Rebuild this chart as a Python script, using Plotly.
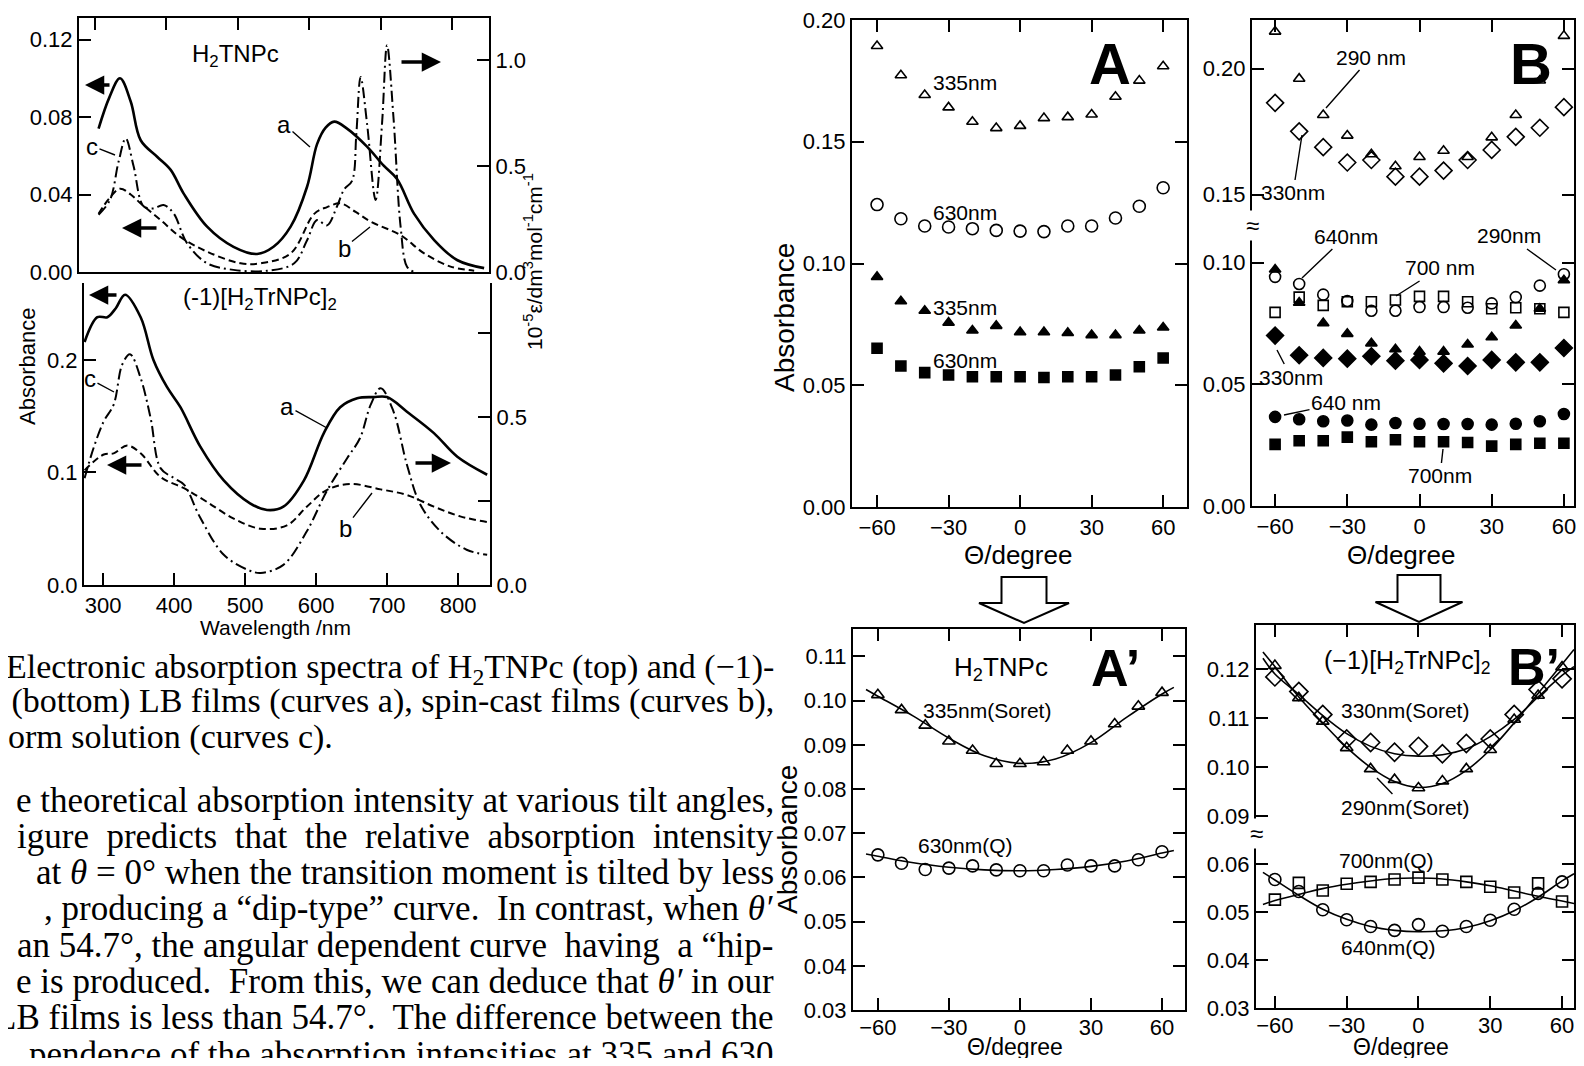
import plotly.graph_objects as go

# The page body keeps its default 8 px margin, so the figure is sized to fit
# the 1584x1066 window; chart positions are given in window pixels.
OFF = 8
XS = 7   # horizontal correction of chart positions
W, H = 1584 - 2 * OFF, 1066 - 2 * OFF
SANS = "Liberation Sans Narrow, Liberation Sans, Arial"
SANS2 = "Liberation Sans, Arial"
SERIF = "Liberation Serif, Times New Roman"
NB = "\u00a0"


def px(x):
    return (x - OFF + XS) / W


def py(y):
    return 1 - (y - OFF) / H


# ---------------- spectra (left) ----------------
# top panel: H2TNPc
top_a_wl = [305, 320, 335, 350, 364, 387, 406, 424, 457, 494, 527, 550, 574, 597, 611, 623, 635, 653, 681, 704, 723, 747, 775, 807, 845]
top_a_abs = [0.074, 0.090, 0.100, 0.088, 0.068, 0.0595, 0.0527, 0.0406, 0.0234, 0.013, 0.0093, 0.013, 0.0234, 0.044, 0.066, 0.0745, 0.0776, 0.074, 0.0647, 0.055, 0.048, 0.030, 0.0165, 0.0062, 0.002]
top_b_wl = [305, 320, 335, 350, 364, 392, 420, 457, 504, 532, 574, 607, 625, 644, 665, 686, 728, 761, 798, 831]
top_b_abs = [0.030, 0.038, 0.043, 0.040, 0.0354, 0.0268, 0.018, 0.0105, 0.0045, 0.0045, 0.0096, 0.030, 0.0335, 0.0354, 0.031, 0.026, 0.019, 0.0096, 0.0028, 0.0007]
top_c_wl = [305, 321, 333, 343, 354, 368, 382, 396, 410, 429, 457, 494, 541, 579, 597, 611, 625, 639, 649, 660, 666, 672, 681, 693, 702, 709, 718, 728, 737, 747]
top_c_eps = [0.27, 0.34, 0.52, 0.63, 0.50, 0.31, 0.30, 0.316, 0.277, 0.135, 0.041, 0.010, 0.006, 0.041, 0.15, 0.245, 0.22, 0.31, 0.39, 0.43, 0.65, 0.92, 0.70, 0.34, 0.70, 1.07, 0.73, 0.214, 0.025, 0.0]

# bottom panel: (-1)[H2TrNPc]2
bot_a_wl = [274, 292, 306, 318, 331, 353, 371, 390, 409, 437, 470, 507, 531, 554, 583, 611, 634, 658, 681, 700, 728, 766, 799, 841]
bot_a_abs = [0.216, 0.238, 0.238, 0.246, 0.258, 0.238, 0.200, 0.176, 0.158, 0.123, 0.093, 0.0726, 0.0667, 0.0696, 0.093, 0.135, 0.158, 0.166, 0.167, 0.167, 0.154, 0.135, 0.114, 0.098]
bot_b_wl = [274, 301, 315, 334, 353, 381, 414, 446, 484, 522, 559, 587, 615, 648, 691, 728, 766, 803, 841]
bot_b_abs = [0.102, 0.116, 0.117, 0.124, 0.117, 0.096, 0.086, 0.074, 0.059, 0.050, 0.053, 0.0696, 0.0844, 0.0898, 0.085, 0.080, 0.0696, 0.061, 0.056]
bot_c_wl = [274, 287, 301, 315, 327, 338, 353, 367, 381, 400, 414, 437, 470, 503, 522, 554, 587, 615, 644, 662, 677, 691, 709, 728, 747, 775, 812, 841]
bot_c_eps = [0.318, 0.41, 0.487, 0.537, 0.656, 0.687, 0.616, 0.497, 0.348, 0.318, 0.299, 0.20, 0.09, 0.046, 0.036, 0.06, 0.16, 0.279, 0.378, 0.4375, 0.537, 0.586, 0.517, 0.358, 0.239, 0.16, 0.105, 0.09]

# ---------------- angular dependence ----------------
theta = [-60, -50, -40, -30, -20, -10, 0, 10, 20, 30, 40, 50, 60]

# Panel A (H2TNPc)
A_335_open = [0.1893, 0.1773, 0.1692, 0.1641, 0.1582, 0.1556, 0.1565, 0.1597, 0.1601, 0.1612, 0.1685, 0.1751, 0.1810]
A_630_open = [0.1242, 0.1184, 0.1154, 0.1150, 0.1143, 0.1136, 0.1133, 0.1131, 0.1154, 0.1154, 0.1187, 0.1235, 0.1311]
A_335_fill = [0.0945, 0.0845, 0.0806, 0.0757, 0.0725, 0.0744, 0.0718, 0.0718, 0.0715, 0.0706, 0.0706, 0.0725, 0.0737]
A_630_fill = [0.0652, 0.0579, 0.0552, 0.0542, 0.0535, 0.0535, 0.0535, 0.0532, 0.0535, 0.0535, 0.0542, 0.0576, 0.0612]

# Panel B ((-1)[H2TrNPc]2)
B_290_open = [0.2147, 0.1960, 0.1816, 0.1734, 0.1660, 0.1612, 0.1649, 0.1674, 0.1649, 0.1727, 0.1816, 0.1953, 0.2130]
B_330_open = [0.1864, 0.1751, 0.1688, 0.1627, 0.1637, 0.1571, 0.1571, 0.1595, 0.1637, 0.1677, 0.1729, 0.1765, 0.1847]
B_640_open = [0.0941, 0.0912, 0.0868, 0.0842, 0.0802, 0.0802, 0.0817, 0.0817, 0.0814, 0.0832, 0.0858, 0.0905, 0.0952]
B_700_open = [0.0795, 0.0858, 0.0824, 0.0839, 0.0839, 0.0846, 0.0861, 0.0861, 0.0839, 0.0810, 0.0814, 0.0810, 0.0795]
B_290_fill = [0.0971, 0.0835, 0.0751, 0.0707, 0.0668, 0.0644, 0.0634, 0.0634, 0.0663, 0.0693, 0.0741, 0.0810, 0.0927]
B_330_fill = [0.0700, 0.0619, 0.0608, 0.0605, 0.0615, 0.0597, 0.0600, 0.0586, 0.0575, 0.0600, 0.0590, 0.0590, 0.0649]
B_640_fill = [0.0366, 0.0356, 0.0348, 0.0351, 0.0334, 0.0341, 0.0338, 0.0337, 0.0337, 0.0334, 0.0338, 0.0348, 0.0378]
B_700_fill = [0.0253, 0.0268, 0.0268, 0.0283, 0.0264, 0.0272, 0.0264, 0.0264, 0.0261, 0.0246, 0.0253, 0.0258, 0.0258]

# Panel A' (corrected)
Ap_335 = [0.1013, 0.0979, 0.0944, 0.0908, 0.0887, 0.0857, 0.0857, 0.0861, 0.0887, 0.0908, 0.0947, 0.0987, 0.1018]
Ap_630 = [0.0651, 0.0632, 0.0618, 0.0621, 0.0626, 0.0617, 0.0615, 0.0615, 0.0628, 0.0626, 0.0626, 0.0640, 0.0658]
curve_theta = [-65, -60, -45, -30, -15, 0, 15, 30, 45, 60, 65]
Ap_335_curve = [0.1025, 0.1010, 0.0965, 0.0915, 0.0875, 0.0858, 0.0868, 0.0905, 0.0962, 0.1015, 0.1030]
Ap_630_curve = [0.0653, 0.0648, 0.0633, 0.0623, 0.0617, 0.0615, 0.0618, 0.0625, 0.0637, 0.0655, 0.0661]

# Panel B' (corrected)
Bp_330 = [0.1184, 0.1154, 0.1107, 0.1057, 0.1050, 0.1030, 0.1042, 0.1027, 0.1048, 0.1057, 0.1107, 0.1158, 0.1180]
Bp_290 = [0.1207, 0.1141, 0.1093, 0.1039, 0.0996, 0.0974, 0.0957, 0.0971, 0.0996, 0.1035, 0.1097, 0.1146, 0.1204]
Bp_700 = [0.0526, 0.0561, 0.0545, 0.0559, 0.0563, 0.0568, 0.0572, 0.0568, 0.0563, 0.0553, 0.0541, 0.0560, 0.0522]
Bp_640 = [0.0568, 0.0543, 0.0505, 0.0484, 0.0470, 0.0462, 0.0474, 0.0460, 0.0470, 0.0483, 0.0506, 0.0539, 0.0563]
curve_theta_b = [-65, -60, -50, -40, -30, -20, -10, 0, 10, 20, 30, 40, 50, 60, 65]
Bp_330_curve = [0.1222, 0.1190, 0.1148, 0.1105, 0.1068, 0.1042, 0.1027, 0.1022, 0.1025, 0.1037, 0.1062, 0.1097, 0.1143, 0.1187, 0.1205]
Bp_290_curve = [0.1235, 0.1205, 0.1143, 0.1090, 0.1040, 0.0999, 0.0970, 0.0958, 0.0966, 0.0993, 0.1035, 0.1090, 0.1150, 0.1210, 0.1240]
Bp_700_curve = [0.0516, 0.0524, 0.0537, 0.0549, 0.0558, 0.0565, 0.0570, 0.0571, 0.0569, 0.0563, 0.0555, 0.0544, 0.0533, 0.0523, 0.0518]
Bp_640_curve = [0.0583, 0.0567, 0.0535, 0.0506, 0.0485, 0.0470, 0.0462, 0.0459, 0.0461, 0.0468, 0.0482, 0.0503, 0.0531, 0.0565, 0.0580]

theta_ticks = [-60, -30, 0, 30, 60]
theta_ticktext = ["−60", "−30", "0", "30", "60"]

caption_lines = [
    "Electronic absorption spectra of H<sub>2</sub>TNPc (top) and (−1)-",
    "<sub>2</sub> (bottom) LB films (curves a), spin-cast films (curves b),",
    "orm solution (curves c).",
]
para_lines = [
    "e theoretical absorption intensity at various tilt angles,",
    f"igure {NB}predicts {NB}that {NB}the {NB}relative {NB}absorption {NB}intensity",
    "at <i>θ</i> = 0° when the transition moment is tilted by less",
    ", producing a “dip-type” curve.  In contrast, when <i>θ′</i>",
    f"an 54.7°, the angular dependent curve {NB}having {NB}a “hip-",
    "e is produced.  From this, we can deduce that <i>θ′</i> in our",
    "LB films is less than 54.7°.  The difference between the",
    "pendence of the absorption intensities at 335 and 630",
]

fig = go.Figure()

# ---- spectra traces ----
line_a = dict(color="black", width=2.6)
line_b = dict(color="black", width=2, dash="7px,4px")
line_c = dict(color="black", width=2, dash="11px,4px,2px,4px")
fig.add_trace(go.Scatter(x=top_a_wl, y=top_a_abs, mode="lines", line=line_a, line_shape="spline", xaxis="x", yaxis="y"))
fig.add_trace(go.Scatter(x=top_b_wl, y=top_b_abs, mode="lines", line=line_b, line_shape="spline", xaxis="x", yaxis="y"))
fig.add_trace(go.Scatter(x=top_c_wl, y=top_c_eps, mode="lines", line=line_c, line_shape="spline", xaxis="x", yaxis="y2"))
fig.add_trace(go.Scatter(x=bot_a_wl, y=bot_a_abs, mode="lines", line=line_a, line_shape="spline", xaxis="x2", yaxis="y3"))
fig.add_trace(go.Scatter(x=bot_b_wl, y=bot_b_abs, mode="lines", line=line_b, line_shape="spline", xaxis="x2", yaxis="y3"))
fig.add_trace(go.Scatter(x=bot_c_wl, y=bot_c_eps, mode="lines", line=line_c, line_shape="spline", xaxis="x2", yaxis="y4"))


def pts(y, sym, size, xa, ya, x=theta):
    fig.add_trace(go.Scatter(
        x=x, y=y, mode="markers", xaxis=xa, yaxis=ya, cliponaxis=False,
        marker=dict(symbol=sym, size=size, color="black", line=dict(color="black", width=1.6)),
    ))


def crv(x, y, xa, ya):
    fig.add_trace(go.Scatter(x=x, y=y, mode="lines", line=dict(color="black", width=1.6),
                             line_shape="spline", xaxis=xa, yaxis=ya))


# Panel A
pts(A_335_open, "triangle-up-open", 10, "x3", "y5")
pts(A_630_open, "circle-open", 12, "x3", "y5")
pts(A_335_fill, "triangle-up", 10, "x3", "y5")
pts(A_630_fill, "square", 10, "x3", "y5")
# Panel B
pts(B_290_open, "triangle-up-open", 10, "x5", "y7")
pts(B_330_open, "diamond-open", 13, "x5", "y7")
pts(B_640_open, "circle-open", 11, "x4", "y6")
pts(B_700_open, "square-open", 10, "x4", "y6")
pts(B_290_fill, "triangle-up", 10, "x4", "y6")
pts(B_330_fill, "diamond", 13, "x4", "y6")
pts(B_640_fill, "circle", 11, "x4", "y6")
pts(B_700_fill, "square", 10, "x4", "y6")
# Panel A'
crv(curve_theta, Ap_335_curve, "x6", "y8")
crv(curve_theta, Ap_630_curve, "x6", "y8")
pts(Ap_335, "triangle-up-open", 11, "x6", "y8")
pts(Ap_630, "circle-open", 12, "x6", "y8")
# Panel B'
crv(curve_theta_b, Bp_330_curve, "x8", "y10")
crv(curve_theta_b, Bp_290_curve, "x8", "y10")
crv(curve_theta_b, Bp_700_curve, "x7", "y9")
crv(curve_theta_b, Bp_640_curve, "x7", "y9")
pts(Bp_330, "diamond-open", 14, "x8", "y10")
pts(Bp_290, "triangle-up-open", 11, "x8", "y10")
pts(Bp_700, "square-open", 11, "x7", "y9")
pts(Bp_640, "circle-open", 12, "x7", "y9")

# ---- axes ----
TF = dict(family=SANS, size=22, color="black")


def ax(**kw):
    d = dict(showline=True, linecolor="black", linewidth=2, ticks="inside", ticklen=12,
             tickwidth=2, tickcolor="black", showgrid=False, zeroline=False, tickfont=TF,
             fixedrange=True, automargin=False, ticklabeloverflow="allow")
    d.update(kw)
    return d


wl_ticks = [300, 400, 500, 600, 700, 800]
RB = 1567  # right edge of the B panels
BR = [-69.6, 64.2]
BPR = [-67.9, 65.0]
layout_axes = dict(
    # spectra top
    xaxis=ax(domain=[px(72), px(482)], range=[277.6, 851.8], anchor="y", side="top", mirror=True,
             tickvals=wl_ticks, showticklabels=False),
    yaxis=ax(domain=[py(272), py(18)], range=[0, 0.1311], anchor="x", mirror=False,
             tickvals=[0, 0.04, 0.08, 0.12], ticktext=["0.00", "0.04", "0.08", "0.12"]),
    yaxis2=ax(overlaying="y", side="right", anchor="x", range=[0, 1.198],
              tickvals=[0, 0.5, 1.0], ticktext=["0.0", "0.5", "1.0"]),
    # spectra bottom
    xaxis2=ax(domain=[px(77), px(483)], range=[273.2, 845], anchor="y3",
              tickvals=wl_ticks),
    yaxis3=ax(domain=[py(585), py(283)], range=[0, 0.2684], anchor="x2",
              tickvals=[0, 0.1, 0.2], ticktext=["0.0", "0.1", "0.2"]),
    yaxis4=ax(overlaying="y3", side="right", anchor="x2", range=[0, 0.899],
              tickvals=[0, 0.25, 0.5, 0.75], ticktext=["0.0", "", "0.5", ""]),
    # A
    xaxis3=ax(domain=[px(845), px(1180)], range=[-70.5, 70], anchor="y5", mirror="ticks",
              tickvals=theta_ticks, ticktext=theta_ticktext),
    yaxis5=ax(domain=[py(507), py(20)], range=[0, 0.2], anchor="x3", mirror="ticks",
              tickvals=[0, 0.05, 0.10, 0.15, 0.20], ticktext=["0.00", "0.05", "0.10", "0.15", "0.20"]),
    # B
    xaxis4=ax(domain=[px(1245), px(RB)], range=BR, anchor="y6",
              tickvals=theta_ticks, ticktext=theta_ticktext),
    yaxis6=ax(domain=[py(506), py(225)], range=[0, 0.1154], anchor="x4", mirror="ticks",
              tickvals=[0, 0.05, 0.10], ticktext=["0.00", "0.05", "0.10"]),
    xaxis5=ax(domain=[px(1245), px(RB)], range=BR, anchor="y7", side="top",
              tickvals=theta_ticks, showticklabels=False),
    yaxis7=ax(domain=[py(225), py(20)], range=[0.1379, 0.2193], anchor="x5", mirror="ticks",
              tickvals=[0.15, 0.20], ticktext=["0.15", "0.20"]),
    # A'
    xaxis6=ax(domain=[px(846), px(1178)], range=[-70.5, 69.7], anchor="y8", mirror="ticks",
              tickvals=theta_ticks, ticktext=theta_ticktext, ticklabelstandoff=-3),
    yaxis8=ax(domain=[py(1010), py(629)], range=[0.03, 0.1162], anchor="x6", mirror="ticks",
              tickvals=[0.03, 0.04, 0.05, 0.06, 0.07, 0.08, 0.09, 0.10, 0.11],
              ticktext=["0.03", "0.04", "0.05", "0.06", "0.07", "0.08", "0.09", "0.10", "0.11"]),
    # B'
    xaxis7=ax(domain=[px(1249), px(RB)], range=BPR, anchor="y9",
              tickvals=theta_ticks, ticktext=theta_ticktext, ticklabelstandoff=-3),
    yaxis9=ax(domain=[py(1008), py(833)], range=[0.03, 0.0665], anchor="x7", mirror="ticks",
              tickvals=[0.03, 0.04, 0.05, 0.06], ticktext=["0.03", "0.04", "0.05", "0.06"]),
    xaxis8=ax(domain=[px(1249), px(RB)], range=BPR, anchor="y10", side="top",
              tickvals=theta_ticks, showticklabels=False),
    yaxis10=ax(domain=[py(833), py(625)], range=[0.0865, 0.129], anchor="x8", mirror="ticks",
               tickvals=[0.09, 0.10, 0.11, 0.12], ticktext=["0.09", "0.10", "0.11", "0.12"]),
)

fig.update_layout(
    width=W, height=H, autosize=False,
    margin=dict(l=0, r=0, t=0, b=0, pad=0, autoexpand=False),
    paper_bgcolor="white", plot_bgcolor="rgba(0,0,0,0)",
    showlegend=False,
    **layout_axes,
)


# ---- annotations helpers ----
def txt(x, y, text, size=20, family=SANS2, angle=0, xanchor="center", weight=None, **kw):
    f = dict(family=family, size=size, color="black")
    if weight:
        f["weight"] = weight
    fig.add_annotation(x=px(x), y=py(y), xref="paper", yref="paper", text=text, showarrow=False,
                       font=f, textangle=angle, xanchor=xanchor, yanchor="middle", **kw)


def leader(tx, ty, hx, hy, text, size=20):
    fig.add_annotation(x=px(hx), y=py(hy), xref="paper", yref="paper", text=text,
                       showarrow=True, arrowhead=0, arrowwidth=1.4, arrowcolor="black",
                       ax=tx - hx, ay=ty - hy, font=dict(family=SANS2, size=size, color="black"))


def arrow(hx, hy, tx, ty):
    fig.add_annotation(x=px(hx), y=py(hy), xref="paper", yref="paper", text="",
                       showarrow=True, arrowhead=2, arrowsize=1.1, arrowwidth=3.5, arrowcolor="black",
                       ax=tx - hx, ay=ty - hy)


# spectra labels
txt(228, 55, "H<sub>2</sub>TNPc", 24)
txt(253, 298, "(-1)[H<sub>2</sub>TrNPc]<sub>2</sub>", 24)
txt(20, 367, "Absorbance", 22, angle=-90)
txt(268, 627, "Wavelength /nm", 21)
txt(526, 262, "10<sup>-5</sup>ε/dm<sup>3</sup>mol<sup>-1</sup>cm<sup>-1</sup>", 21, angle=-90)
leader(277, 124, 303, 147, "a", 24)
leader(337, 248, 363, 227, "b", 24)
leader(85, 146, 108, 155, "c", 24)
leader(280, 406, 320, 428, "a", 24)
leader(338, 528, 365, 493, "b", 24)
leader(83, 379, 107, 392, "c", 24)
arrow(78, 85, 104, 85)
arrow(115, 228, 151, 228)
arrow(434, 62, 393, 62)
arrow(82, 295, 111, 295)
arrow(100, 465, 136, 465)
arrow(444, 463, 407, 463)

# Panel A
txt(958, 82, "335nm", 21)
txt(958, 212, "630nm", 21)
txt(958, 307, "335nm", 21)
txt(958, 361, "630nm", 21)
txt(1103, 63, "A", 58, weight="bold")
txt(777, 318, "Absorbance", 28, angle=-90)
txt(1011, 555, "Θ/degree", 26)

# Panel B
txt(1524, 63, "B", 58, weight="bold")
txt(1394, 555, "Θ/degree", 26)
leader(1364, 57, 1319, 108, "290 nm", 21)
leader(1286, 193, 1295, 135, "330nm", 21)
leader(1339, 236, 1295, 278, "640nm", 21)
leader(1502, 236, 1549, 270, "290nm", 21)
leader(1433, 268, 1389, 296, "700 nm", 21)
leader(1284, 377, 1270, 350, "330nm", 21)
leader(1339, 402, 1277, 415, "640 nm", 21)
leader(1433, 476, 1436, 449, "700nm", 21)
txt(1245, 225, "≈", 24, bgcolor="white")

# Panel A'
txt(994, 668, "H<sub>2</sub>TNPc", 26)
txt(1108, 668, "A’", 52, weight="bold")
txt(980, 710, "335nm(Soret)", 21)
txt(958, 845, "630nm(Q)", 21)
txt(780, 840, "Absorbance", 28, angle=-90)
txt(1008, 1047, "Θ/degree", 23)

# Panel B'
txt(1400, 662, "(−1)[H<sub>2</sub>TrNPc]<sub>2</sub>", 25)
txt(1527, 667, "B’", 52, weight="bold")
txt(1398, 710, "330nm(Soret)", 21)
leader(1398, 807, 1370, 778, "290nm(Soret)", 21)
txt(1379, 860, "700nm(Q)", 21)
txt(1381, 947, "640nm(Q)", 21)
txt(1394, 1047, "Θ/degree", 23)
txt(1249, 833, "≈", 24, bgcolor="white")


# hollow down arrows
def hollow(cx, top, stem_w, head_w, stem_h, head_h):
    p = [(cx - stem_w / 2, top), (cx + stem_w / 2, top), (cx + stem_w / 2, top + stem_h),
         (cx + head_w / 2, top + stem_h), (cx, top + stem_h + head_h),
         (cx - head_w / 2, top + stem_h), (cx - stem_w / 2, top + stem_h)]
    path = "M " + " L ".join(f"{px(x):.5f},{py(y):.5f}" for x, y in p) + " Z"
    fig.add_shape(type="path", path=path, xref="paper", yref="paper",
                  line=dict(color="black", width=2), fillcolor="white")


hollow(1017, 577, 45, 90, 26, 20)
hollow(1412, 575, 43, 87, 27, 20)

# page text (window positions: undo the chart correction)
cy = [669, 703, 737]
for i, t in enumerate(caption_lines):
    if i < 2:
        txt(776 - XS, cy[i], t, 34, family=SERIF, xanchor="right")
    else:
        txt(6 - XS, cy[i], t, 34, family=SERIF, xanchor="left")
for i, t in enumerate(para_lines):
    txt(776 - XS, 800 + i * 36.3, t, 35, family=SERIF, xanchor="right")

fig.write_html("out.html")
